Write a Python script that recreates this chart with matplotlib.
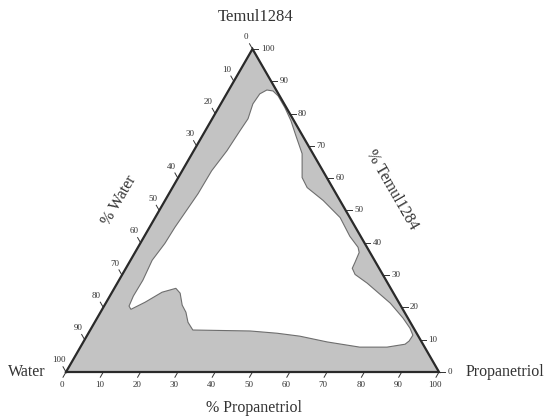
import numpy as np
import matplotlib.pyplot as plt

plt.rcParams['font.family'] = ['Liberation Serif', 'DejaVu Serif']

# edge of the white (single phase) region, in % of each component
propanetriol = [10.2, 12.0, 14.1, 17.8, 21.4, 25.1, 29.5, 33.2, 36.1, 42.4,
                49.6, 55.1, 59.0, 60.1, 60.5, 60.7, 62.4, 67.0, 76.3, 82.0,
                85.4, 87.3, 87.2, 86.6, 82.2, 74.9, 65.4, 57.1, 50.6, 43.0,
                27.5, 25.0, 22.9, 20.8, 18.4, 16.5, 13.4, 10.4, 7.7, 6.7,
                6.3, 6.4, 5.8, 6.6, 6.8, 7.8, 7.9, 8.9, 9.3, 9.6,
                8.6, 8.9]
temul = [87.3, 87.0, 85.5, 81.8, 77.8, 73.1, 67.6, 60.2, 57.1, 53.1,
         47.8, 42.0, 38.6, 37.0, 34.0, 32.1, 30.2, 27.5, 21.3, 16.7,
         13.6, 11.4, 9.6, 8.6, 7.7, 7.7, 9.3, 11.1, 12.0, 12.7,
         13.0, 15.4, 18.5, 20.7, 24.4, 25.9, 24.7, 21.6, 19.4, 20.4,
         23.5, 28.4, 34.6, 39.8, 44.8, 55.2, 62.3, 68.5, 74.7, 78.4,
         83.0, 86.1]
water = [100 - p - t for p, t in zip(propanetriol, temul)]

ticks = list(range(0, 101, 10))


def tern(p, t):
    # propanetriol corner at (1,0), temul corner at top, water corner at (0,0)
    p = np.asarray(p, dtype=float) / 100.0
    t = np.asarray(t, dtype=float) / 100.0
    return p + t / 2, t * np.sqrt(3) / 2


fig = plt.figure(figsize=(5.47, 4.19), dpi=100)
ax = fig.add_axes([0, 0, 1, 1])
ax.set_xlim(-66 / 373, 481 / 373)
ax.set_ylim(-47 / 373, 372 / 373)
ax.axis('off')

cx, cy = tern([0, 100, 0, 0], [0, 0, 100, 0])
ax.fill(cx, cy, color='#c3c3c3', zorder=1)

wx, wy = tern(propanetriol, temul)
ax.fill(wx, wy, facecolor='white', edgecolor='#6e6e6e', lw=0.8, zorder=2)
ax.plot(cx, cy, color='#2a2a2a', lw=1.6, zorder=3, solid_joinstyle='miter')

tcol = '#333333'
for v in ticks:
    # bottom: % Propanetriol
    x, y = tern(v, 0)
    ax.plot([x, x - 0.008], [y, y - 0.014], color=tcol, lw=0.7)
    ax.text(x - 0.01, y - 0.036, str(v), fontsize=6.5, ha='center', va='center', color=tcol)
    # left: % Water
    x, y = tern(0, 100 - v)
    ax.plot([x, x - 0.008], [y, y + 0.014], color=tcol, lw=0.7)
    ax.text(x - 0.018, y + 0.031, str(v), fontsize=6.5, ha='center', va='center', color=tcol)
    # right: % Temul1284
    x, y = tern(100 - v, v)
    ax.plot([x, x + 0.016], [y, y], color=tcol, lw=0.7)
    ax.text(x + 0.022, y, str(v), fontsize=6.5, ha='left', va='center', color=tcol)

ax.text(0.509, 0.952, 'Temul1284', fontsize=12, ha='center', va='center', color=tcol)
ax.text(-0.056, 0.0, 'Water', fontsize=11.5, ha='right', va='center', color=tcol)
ax.text(1.072, 0.0, 'Propanetriol', fontsize=11.5, ha='left', va='center', color=tcol)
ax.text(0.504, -0.0965, '% Propanetriol', fontsize=11.5, ha='center', va='center', color=tcol)
ax.text(0.142, 0.461, '% Water', fontsize=11.5, ha='center', va='center', rotation=60, color=tcol)
ax.text(0.874, 0.488, '% Temul1284', fontsize=11.5, ha='center', va='center', rotation=-60, color=tcol)

plt.savefig('out.png', dpi=100)
